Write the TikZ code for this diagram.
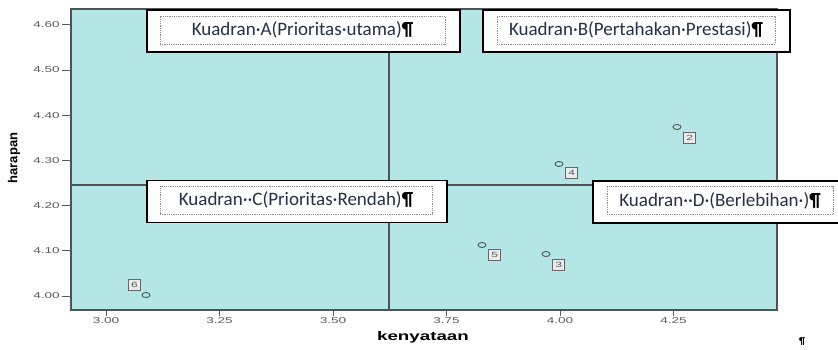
\documentclass[tikz,border=0pt]{standalone}
\usepackage{fontspec}
\setmainfont{Carlito}
\newfontfamily\tickfont[FakeStretch=1.6]{Liberation Sans}
\newfontfamily\xtitlefont[FakeStretch=1.5]{Liberation Sans}
\newfontfamily\ytitlefont{Liberation Sans}
\usetikzlibrary{positioning,shapes.geometric}

\definecolor{plotfill}{RGB}{180,230,230}
\definecolor{framegray}{RGB}{75,85,85}
\definecolor{kuadtext}{RGB}{38,48,72}
\definecolor{tickgray}{RGB}{90,90,90}

\tikzset{
	kuadbox/.style={draw=black, line width=1.1pt, fill=white, minimum height=42pt, inner sep=0pt},
	dotbox/.style={draw=black!45, densely dotted, line width=0.8pt, minimum height=28pt, inner sep=0pt,
		text=kuadtext, font=\fontsize{19}{21}\selectfont},
	pointmark/.style={ellipse, draw=framegray, line width=0.9pt, minimum width=8pt, minimum height=5pt, inner sep=0pt},
	pointlabel/.style={rectangle, draw=black!60, fill=black!8, line width=0.9pt, minimum width=12pt,
		minimum height=11pt, inner sep=0pt, text=black!65, font=\tickfont\fontsize{7.5}{8}\selectfont},
	ticklabel/.style={text=tickgray, inner sep=0pt, font=\tickfont\fontsize{8.5}{9}\selectfont}
}

\newcommand{\pil}{{\color{black}\textbf{¶}}}

\begin{document}
\begin{tikzpicture}[x=1pt,y=-1pt]
	\useasboundingbox (0,0) rectangle (838,349);

	% plot area
	\coordinate (nw) at (71,9);
	\coordinate (se) at (777,310);
	\fill[plotfill] (nw) rectangle (se);
	\draw[framegray, line width=1.2pt] (389,9) -- (389,310);
	\draw[framegray, line width=1.2pt] (71,185) -- (777,185);
	\draw[framegray, line width=1.4pt] (nw) rectangle (se);

	% ticks
	\foreach \v [count=\i from 0] in {4.00,4.10,4.20,4.30,4.40,4.50,4.60} {
		\draw[tickgray, line width=0.9pt] (62,296-45.2*\i) -- (71,296-45.2*\i);
		\node (y\i) at (60,296-45.2*\i) [ticklabel, anchor=east] {\v};
	}
	\foreach \v [count=\i from 0] in {3.00,3.25,3.50,3.75,4.00,4.25} {
		\draw[tickgray, line width=0.9pt] (106+113.5*\i,310) -- (106+113.5*\i,316);
		\node (x\i) at (106+113.5*\i,320.5) [ticklabel] {\v};
	}

	% axis titles
	\node (xtitle) at (423,337)	[font=\xtitlefont\bfseries\fontsize{12.5}{13}\selectfont]	{kenyataan};
	\node (ytitle) at (14,158)	[rotate=90, font=\ytitlefont\bfseries\fontsize{13}{14}\selectfont]	{harapan};

	% points
	\node (p2) at (677,127)	[pointmark]	{};
	\node (p4) at (559,164)	[pointmark]	{};
	\node (p5) at (482,245)	[pointmark]	{};
	\node (p3) at (546,254)	[pointmark]	{};
	\node (p6) at (146,295)	[pointmark]	{};
	\node (l2) [pointlabel, below right=3pt and 3pt of p2]	{2};
	\node (l4) [pointlabel, below right=1pt and 3pt of p4]	{4};
	\node (l5) [pointlabel, below right=2pt and 3pt of p5]	{5};
	\node (l3) [pointlabel, below right=3pt and 3pt of p3]	{3};
	\node (l6) [pointlabel, above left=2pt and 2pt of p6]	{6};

	% quadrant boxes
	\node (kA) at (303.5,31)	[kuadbox, minimum width=313pt]	{};
	\node (tA) at (302.5,30)	[dotbox, minimum width=285pt]	{Kuadran·A(Prioritas·utama)\pil};
	\node (kB) at (636.5,31)	[kuadbox, minimum width=307pt]	{};
	\node (tB) at (636,30)	[dotbox, minimum width=278pt]	{Kuadran·B(Pertahakan·Prestasi)\pil};
	\node (kC) at (297,201.5)	[kuadbox, minimum width=300pt]	{};
	\node (tC) at (296,200)	[dotbox, minimum width=272pt]	{Kuadran··C(Prioritas·Rendah)\pil};
	\node (kD) at (716,202)	[kuadbox, minimum width=246pt]	{};
	\node (tD) at (720,200.5)	[dotbox, minimum width=226pt]	{Kuadran··D·(Berlebihan·)\pil};

	\node (end) at (802,342)	[inner sep=0pt, font=\fontsize{10}{11}\selectfont]	{\pil};
\end{tikzpicture}
\end{document}
